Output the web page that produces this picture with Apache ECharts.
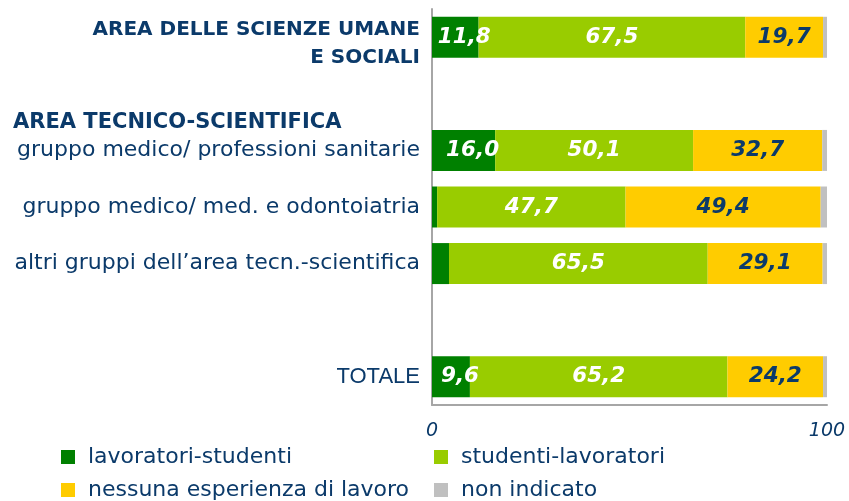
<!DOCTYPE html>
<html>
<head>
<meta charset="utf-8">
<script src="https://cdn.jsdelivr.net/npm/echarts@6/dist/echarts.min.js"></script>
<style>
  html, body { margin: 0; padding: 0; background: #fff; }
  #chart { width: 849px; height: 501px; }
</style>
</head>
<body>
<div id="chart"></div>
<script>
const categories = [
  'AREA DELLE SCIENZE UMANE E SOCIALI',
  '',
  'gruppo medico/ professioni sanitarie',
  'gruppo medico/ med. e odontoiatria',
  'altri gruppi dell’area tecn.-scientifica',
  ' ',
  'TOTALE'
]
const lavoratoriStudenti = [11.8, null, 16.0, 1.3, 4.3, null, 9.6]
const studentiLavoratori = [67.5, null, 50.1, 47.7, 65.5, null, 65.2]
const nessunaEsperienza = [19.7, null, 32.7, 49.4, 29.1, null, 24.2]
const nonIndicato = [1.0, null, 1.2, 1.6, 1.1, null, 1.0]
const xTicks = [0, 100]

const navy = '#0b3a6a'
const font = 'DejaVu Sans'

const fmt = v => v.toFixed(1).replace('.', ',')
const barLabel = (color, offset) => ({
  show: true,
  position: 'inside',
  offset: offset || [0, 0],
  color: color,
  fontFamily: font,
  fontSize: 21.5,
  fontWeight: 'bold',
  fontStyle: 'italic',
  formatter: p => (p.value == null || p.value < 5 ? '' : fmt(p.value))
})

const mkSeries = (name, data, color, label) => ({
  name: name,
  type: 'bar',
  stack: 'tot',
  barWidth: 41,
  data: data,
  itemStyle: { color: color },
  label: label || { show: false },
  emphasis: { disabled: true }
})

const legendAt = (name, left, top) => ({
  data: [name],
  left: left,
  top: top,
  padding: 0,
  icon: 'rect',
  itemWidth: 14,
  itemHeight: 14,
  selectedMode: false,
  textStyle: {
    color: navy,
    fontFamily: font,
    fontSize: 22,
    lineHeight: 24,
    padding: [0, 0, 0, 8]
  }
})

const chart = echarts.init(document.getElementById('chart'))
chart.setOption({
  animation: false,
  grid: { left: 432, right: 22, top: 9, bottom: 96 },
  xAxis: {
    type: 'value',
    min: xTicks[0],
    max: xTicks[1],
    interval: xTicks[1] - xTicks[0],
    axisLine: { show: true, lineStyle: { color: '#a6a6a6', width: 2 } },
    axisTick: { show: false },
    splitLine: { show: false },
    axisLabel: {
      margin: 17,
      color: navy,
      fontFamily: font,
      fontStyle: 'italic',
      fontSize: 19
    }
  },
  yAxis: {
    type: 'category',
    inverse: true,
    data: categories.map((c, i) =>
      i === 0 ? { value: c, textStyle: { padding: [13, 0, 0, 0] } } : c
    ),
    axisLine: { show: true, lineStyle: { color: '#a6a6a6', width: 2 } },
    axisTick: { show: false },
    axisLabel: {
      margin: 12,
      color: navy,
      fontFamily: font,
      fontSize: 22,
      formatter: v => {
        if (v === categories[0]) {
          return '{b|AREA DELLE SCIENZE UMANE}\n{b|E SOCIALI}'
        }
        if (v === 'TOTALE') return '{t|TOTALE}'
        return v
      },
      rich: {
        b: {
          color: navy,
          fontFamily: font,
          fontSize: 20,
          fontWeight: 'bold',
          lineHeight: 28,
          align: 'right'
        },
        t: {
          color: navy,
          fontFamily: 'Liberation Sans',
          fontSize: 22
        }
      }
    }
  },
  legend: [
    legendAt('lavoratori-studenti', 61, 445),
    legendAt('studenti-lavoratori', 434, 445),
    legendAt('nessuna esperienza di lavoro', 61, 478),
    legendAt('non indicato', 434, 478)
  ],
  graphic: [
    {
      type: 'text',
      left: 13,
      top: 112,
      style: {
        text: 'AREA TECNICO-SCIENTIFICA',
        fill: navy,
        font: 'bold 21px "DejaVu Sans"'
      }
    }
  ],
  series: [
    mkSeries('lavoratori-studenti', lavoratoriStudenti, '#008000', barLabel('#ffffff', [9, 0])),
    mkSeries('studenti-lavoratori', studentiLavoratori, '#99cc00', barLabel('#ffffff')),
    mkSeries('nessuna esperienza di lavoro', nessunaEsperienza, '#ffcc00', barLabel(navy)),
    mkSeries('non indicato', nonIndicato, '#c0c0c0')
  ]
})
window.addEventListener('resize', () => chart.resize())
</script>
</body>
</html>
